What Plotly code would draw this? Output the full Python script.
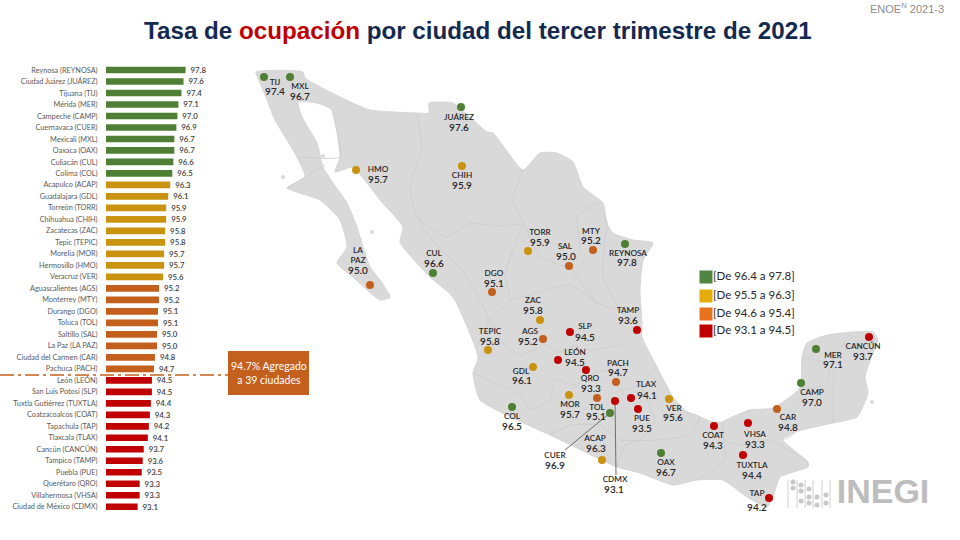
import plotly.graph_objects as go

# ---------- bar data ----------
bar_labels = ["Reynosa (REYNOSA)","Ciudad Juárez (JUÁREZ)","Tijuana (TIJ)","Mérida (MER)","Campeche (CAMP)","Cuernavaca (CUER)","Mexicali (MXL)","Oaxaca (OAX)","Culiacán (CUL)","Colima (COL)","Acapulco (ACAP)","Guadalajara (GDL)","Torreón (TORR)","Chihuahua (CHIH)","Zacatecas (ZAC)","Tepic (TEPIC)","Morelia (MOR)","Hermosillo (HMO)","Veracruz (VER)","Aguascalientes (AGS)","Monterrey (MTY)","Durango (DGO)","Toluca (TOL)","Saltillo (SAL)","La Paz (LA PAZ)","Ciudad del Carmen (CAR)","Pachuca (PACH)","León (LEÓN)","San Luis Potosí (SLP)","Tuxtla Gutiérrez (TUXTLA)","Coatzacoalcos (COAT)","Tapachula (TAP)","Tlaxcala (TLAX)","Cancún (CANCÚN)","Tampico (TAMP)","Puebla (PUE)","Querétaro (QRO)","Villahermosa (VHSA)","Ciudad de México (CDMX)"]
bar_values = [97.8,97.6,97.4,97.1,97.0,96.9,96.7,96.7,96.6,96.5,96.3,96.1,95.9,95.9,95.8,95.8,95.7,95.7,95.6,95.2,95.2,95.1,95.1,95.0,95.0,94.8,94.7,94.5,94.5,94.4,94.3,94.2,94.1,93.7,93.6,93.5,93.3,93.3,93.1]

BAND_COLORS = ["#4E7F35", "#C9930F", "#C4601D", "#C00000"]
LEGEND_COLORS = ["#4F8540", "#E5AC0C", "#E8721C", "#C00000"]
legend_labels = ["[De 96.4 a 97.8]", "[De 95.5 a 96.3]", "[De 94.6 a 95.4]", "[De 93.1 a 94.5]"]
legend_y = [277, 296, 314, 331]

def band(v):
    return 0 if v >= 96.4 else 1 if v >= 95.5 else 2 if v >= 94.6 else 3

# ---------- map data (map units) ----------
mexico_x = [256,303,305,340,370,417,429,429,453,470,487,493,523,540,557,573,583,603,607,613,633,653,643,640,642,642,657,673,687,700,713,723,750,773,800,802,807,827,853,873,878,873,865,868,857,833,795,783,808,808,780,773,767,747,723,697,673,640,617,577,550,517,480,473,478,453,430,400,403,380,367,353,335,340,332,317,298,302,317,323,333,347,357,363,370,380,390,380,353,337,347,340,320,287,305,297,287,275,267,260,256]
mexico_y = [72,72,78,97,110,113,113,103,103,117,132,133,170,153,153,162,187,203,223,233,240,243,260,290,323,337,367,397,412,417,422,422,410,408,388,357,343,335,332,332,340,353,377,393,417,423,432,440,462,467,477,497,507,497,480,480,485,473,467,448,435,420,400,373,357,297,277,242,227,200,183,167,172,157,110,103,102,117,143,167,183,203,227,247,267,280,297,300,277,263,247,220,200,188,177,157,140,120,100,83,72]
island_x = [872, 283, 323, 360, 372]
island_y = [402, 177, 156, 240, 232]

border_lines = [
    ([417,422,410,417,447,470,497,523,513,523], [115,147,187,217,237,223,226,223,200,170]),
    ([523,540,570,580,577,597,607], [223,257,267,250,217,203,223]),
    ([417,432,462,485,490], [217,240,270,310,320]),
    ([523,505,510,490,478], [223,275,300,320,345]),
    ([607,603,620,642], [223,277,310,330]),
    ([570,597,620], [267,303,310]),
    ([510,530,545,570,597], [300,295,290,285,303]),
    ([490,505,520,545,558,575,590,620], [320,345,355,345,352,345,350,345]),
    ([473,500,520,530,550,555,575,590,610,620,640,655], [373,385,395,410,400,380,385,375,370,390,385,367]),
    ([550,570,600,620,655,690,700,687], [435,425,425,440,440,435,417,412]),
    ([617,625,640,655,640], [467,445,440,420,385]),
    ([697,725,723,750], [480,460,422,410]),
    ([723,740,770,808], [440,445,440,462]),
    ([773,795,785], [408,432,440]),
    ([800,825,833,833], [388,385,360,423]),
    ([802,830,850], [357,362,333]),
    ([297,340,332], [157,157,110]),
    ([287,325], [188,165]),
]

map_code = ["TIJ","MXL","JUÁREZ","HMO","CHIH","LA<br>PAZ","CUL","DGO","TORR","SAL","MTY","REYNOSA","TAMP","ZAC","SLP","AGS","TEPIC","LEÓN","QRO","PACH","GDL","MOR","TOL","TLAX","CDMX","CUER","PUE","VER","COL","ACAP","OAX","COAT","VHSA","TUXTLA","TAP","CAR","CAMP","MER","CANCÚN"]
map_value = [97.4,96.7,97.6,95.7,95.9,95.0,96.6,95.1,95.9,95.0,95.2,97.8,93.6,95.8,94.5,95.2,95.8,94.5,93.3,94.7,96.1,95.7,95.1,94.1,93.1,96.9,93.5,95.6,96.5,96.3,96.7,94.3,93.3,94.4,94.2,94.8,97.0,97.1,93.7]
dot_x = [264,290,461,356,462,370,433,492,528,569,593,625,637,540,570,543,488,558,586,616,533,569,597,631,615,610,638,669,512,602,661,714,748,743,769,777,801,816,869]
dot_y = [77,77,107,170,166,285,273,292,251,266,250,244,330,320,332,339,350,360,370,382,367,395,398,398,401,413,409,399,407,460,453,426,423,455,498,409,383,349,337]
name_x = [275,300,459,378,462,358,434,494,540,565,591,628,628,533,585,530,490,575,590,618,521,570,597,646,615,555,642,674,512,595,666,713,755,752,757,788,812,833,863]
name_y = [83,87,118,170,176,256,254,274,233,247,232,254,311,301,327,332,332,353,379,364,372,405,408,385,480,456,419,409,417,439,463,436,435,466,494,418,393,356,347]
val_x = [275,300,459,378,462,358,434,494,540,566,591,627,628,533,585,528,490,575,591,618,522,570,596,647,614,555,642,673,512,596,666,713,755,752,757,788,812,833,863]
val_y = [92,97,128,180,186,271,264,284,243,257,241,263,321,311,338,342,342,363,389,373,381,415,417,396,490,466,429,418,427,449,473,446,445,476,508,428,403,365,357]

leader_cdmx_x = [615, 616]; leader_cdmx_y = [401, 475]
leader_cuer_x = [610, 565]; leader_cuer_y = [413, 450]
mean_line_x = [0, 228]; mean_line_y = [375, 375]
box_x = [228, 309, 309, 228, 228]; box_y = [351, 351, 395, 395, 351]
logo_rods = [788, 797, 805, 813, 822, 830]
logo_dot_x = [793,793,801,801,801,809,809,809,817,817,826,826]
logo_dot_y = [482,488,485,491,501,489,497,503,497,505,495,503]

FONT = "Lato, Carlito, sans-serif"
fig = go.Figure()

# map
fig.add_trace(go.Scatter(x=mexico_x, y=mexico_y, mode="lines", fill="toself", fillcolor="#D9D9D9",
                         line=dict(color="#D6D6D6", width=1, shape="spline", smoothing=0.5),
                         xaxis="x2", yaxis="y2", hoverinfo="skip"))
fig.add_trace(go.Scatter(x=island_x, y=island_y, mode="markers", marker=dict(size=4, color="#DADADA"),
                         xaxis="x2", yaxis="y2", hoverinfo="skip"))
for bx, by in border_lines:
    fig.add_trace(go.Scatter(x=bx, y=by, mode="lines", line=dict(color="#CCCCCC", width=0.8, shape="spline", smoothing=0.4),
                             xaxis="x2", yaxis="y2", hoverinfo="skip"))
for lx, ly in [(leader_cdmx_x, leader_cdmx_y), (leader_cuer_x, leader_cuer_y)]:
    fig.add_trace(go.Scatter(x=lx, y=ly, mode="lines", line=dict(color="#6E6E6E", width=1),
                             xaxis="x2", yaxis="y2", hoverinfo="skip"))
# mean line + callout
fig.add_trace(go.Scatter(x=mean_line_x, y=mean_line_y, mode="lines",
                         line=dict(color="#C4601D", width=1.5, dash="14px,4px,3px,4px"), xaxis="x2", yaxis="y2", hoverinfo="skip"))
fig.add_trace(go.Scatter(x=box_x, y=box_y, mode="lines", fill="toself", fillcolor="#C4601D",
                         line=dict(color="#C4601D", width=0), xaxis="x2", yaxis="y2", hoverinfo="skip"))
# dots
fig.add_trace(go.Scatter(x=dot_x, y=dot_y, mode="markers",
                         marker=dict(size=8, color=[BAND_COLORS[band(v)] for v in map_value]),
                         xaxis="x2", yaxis="y2", hoverinfo="skip"))
# city labels
fig.add_trace(go.Scatter(x=name_x, y=name_y, mode="text", text=map_code, textposition="middle center",
                         textfont=dict(family=FONT, size=8.2, color="#262626", weight=600),
                         xaxis="x2", yaxis="y2", hoverinfo="skip"))
fig.add_trace(go.Scatter(x=val_x, y=val_y, mode="text", text=[f"{v:.1f}" for v in map_value], textposition="middle center",
                         textfont=dict(family=FONT, size=10, color="#262626", weight=600),
                         xaxis="x2", yaxis="y2", hoverinfo="skip"))
# legend
fig.add_trace(go.Scatter(x=[706]*4, y=legend_y, mode="markers",
                         marker=dict(symbol="square", size=13, color=LEGEND_COLORS),
                         xaxis="x2", yaxis="y2", hoverinfo="skip"))
fig.add_trace(go.Scatter(x=[713]*4, y=legend_y, mode="text", text=legend_labels, textposition="middle right",
                         textfont=dict(family=FONT, size=11.5, color="#262626"),
                         xaxis="x2", yaxis="y2", hoverinfo="skip"))
# logo
for rx in logo_rods:
    fig.add_trace(go.Scatter(x=[rx, rx], y=[480, 508], mode="lines", line=dict(color="#D0D0D0", width=1),
                             xaxis="x2", yaxis="y2", hoverinfo="skip"))
fig.add_trace(go.Scatter(x=logo_dot_x, y=logo_dot_y, mode="markers", marker=dict(size=5, color="#C8C8C8"),
                         xaxis="x2", yaxis="y2", hoverinfo="skip"))
fig.add_trace(go.Scatter(x=[883], y=[494], mode="text", text=["INEGI"], textposition="middle center",
                         textfont=dict(family="Liberation Sans Narrow, Liberation Sans", size=34, color="#BDBDBD", weight=700),
                         xaxis="x2", yaxis="y2", hoverinfo="skip"))

# bars
fig.add_trace(go.Bar(y=bar_labels, x=bar_values, orientation="h",
                     marker=dict(color=[BAND_COLORS[band(v)] for v in bar_values], line=dict(width=0)),
                     text=["\u00a0" + f"{v:.1f}" for v in bar_values], textposition="outside", cliponaxis=False,
                     constraintext="none",
                     textfont=dict(family=FONT, size=7.8, color="#404040", weight=600), hoverinfo="skip"))

fig.update_layout(
    width=960, height=540, margin=dict(l=0, r=0, t=0, b=0), autosize=False,
    paper_bgcolor="white", plot_bgcolor="rgba(0,0,0,0)", showlegend=False, bargap=0.42,
    xaxis=dict(domain=[106/960, 240/960], range=[90, 90+134/10.2], visible=False, anchor="y"),
    yaxis=dict(domain=[1-512.5/540, 1-64.25/540], autorange="reversed", type="category", anchor="x",
               tickmode="array", tickvals=bar_labels, ticktext=bar_labels, showgrid=False, showline=False,
               ticks="outside", ticklen=6, tickcolor="rgba(0,0,0,0)",
               tickfont=dict(family=FONT, size=7.3, color="#595959")),
    xaxis2=dict(domain=[0, 1], range=[0, 960], visible=False, anchor="y2"),
    yaxis2=dict(domain=[0, 1], range=[540, 0], visible=False, anchor="x2"),
    annotations=[
        dict(xref="paper", yref="paper", x=477.5/960, y=1-30/540, showarrow=False, xanchor="center", yanchor="middle",
             text="Tasa de <span style='color:#C00000'>ocupación</span> por ciudad del tercer trimestre de 2021",
             font=dict(family="Liberation Sans, Arial", size=24.2, color="#14294F", weight=700)),
        dict(xref="paper", yref="paper", x=946/960, y=1-8/540, showarrow=False, xanchor="right", yanchor="middle",
             text="ENOE<sup>N</sup> 2021-3", font=dict(family="Liberation Sans, Arial", size=11, color="#8C8C8C")),
        dict(xref="paper", yref="paper", x=268.5/960, y=1-373/540, showarrow=False, xanchor="center", yanchor="middle",
             text="94.7% Agregado<br>a 39 ciudades", font=dict(family=FONT, size=10.5, color="white")),
    ],
)
fig.write_html("out.html", config={"displayModeBar": False},
               post_script="document.body.style.margin='0';")
